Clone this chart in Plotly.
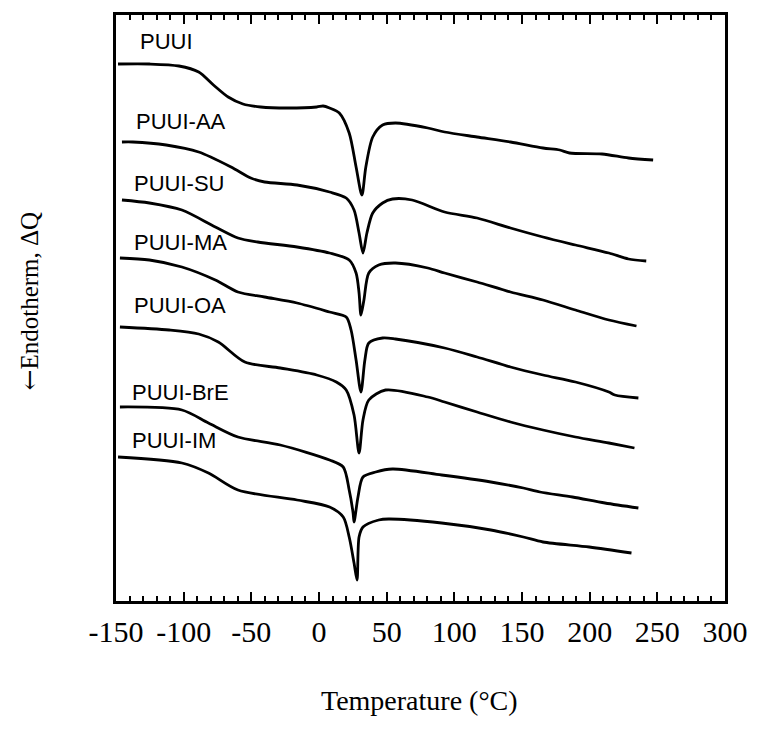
import plotly.graph_objects as go

# Temperature (°C) and heat-flow signal (arbitrary units)
names = ["PUUI", "PUUI-AA", "PUUI-SU", "PUUI-MA", "PUUI-OA", "PUUI-BrE", "PUUI-IM"]

t_puui = [-148.5, -125.3, -103.5, -88.9, -78.0, -67.1, -56.2, -43.1, -23.5, -1.7, 3.0, 7.8, 15.0, 22.3, 27.4, 31.7,
          34.6, 39.7, 47.0, 56.5, 80.4, 92.8, 116.8, 141.5, 165.5, 177.9, 185.1, 209.1, 228.7, 246.9]
q_puui = [537, 537, 535, 529, 516, 504, 497, 494, 493, 494, 495, 493, 488, 468, 434, 406,
          434, 464, 476, 478, 473, 469, 464, 459, 453, 451, 448, 447, 443, 441]

t_aa = [-145.6, -137.6, -112.9, -88.9, -65.0, -50.4, -40.2, -16.2, 7.8, 20.1, 25.9, 29.6, 32.5, 35.4, 39.7, 47.0,
        54.3, 68.8, 92.8, 116.8, 141.5, 165.5, 189.5, 214.2, 228.7, 241.8]
q_aa = [459, 459, 456, 449, 434, 423, 419, 416, 409, 403, 391, 368, 348, 368, 388, 398,
        402, 401, 389, 383, 373, 364, 356, 348, 342, 340]

t_su = [-145.6, -125.3, -101.3, -76.6, -59.9, -45.3, -16.2, 7.8, 22.3, 27.4, 29.6, 31.0, 33.2, 36.8, 44.1, 56.5,
        80.4, 92.8, 116.8, 141.5, 165.5, 189.5, 214.2, 234.6]
q_su = [401, 398, 391, 374, 363, 359, 354, 348, 341, 328, 308, 286, 301, 328, 336, 338,
        333, 328, 319, 309, 301, 291, 281, 275]

t_ma = [-147.1, -125.3, -101.3, -76.6, -59.9, -40.2, -16.2, 7.8, 20.1, 23.7, 27.4, 31.0, 33.9, 36.8, 47.0, 56.5,
        92.8, 116.8, 141.5, 165.5, 189.5, 214.2, 218.6, 236.0]
q_ma = [343, 341, 334, 321, 309, 304, 298, 289, 284, 271, 241, 209, 241, 258, 263, 262,
        253, 244, 234, 226, 219, 209, 206, 203]

t_oa = [-147.1, -110.7, -88.9, -74.4, -54.8, -28.6, -1.7, 12.8, 20.1, 25.9, 29.6, 32.5, 36.8, 49.2, 80.4, 92.8,
        116.8, 141.5, 165.5, 189.5, 214.2, 233.1]
q_oa = [274, 271, 267, 259, 239, 233, 226, 219, 211, 186, 148, 181, 201, 211, 204, 199,
        189, 179, 171, 164, 158, 153]

t_bre = [-147.1, -101.3, -81.7, -59.9, -28.6, 7.8, 17.9, 22.3, 25.2, 25.9, 28.8, 32.5, 41.9, 54.3, 90.6, 127.0,
         151.0, 163.3, 187.3, 211.3, 236.0]
q_bre = [194, 191, 178, 164, 156, 141, 134, 111, 88, 79, 104, 124, 129, 132, 126, 119,
         113, 109, 104, 98, 93]

t_im = [-148.5, -101.3, -81.7, -59.9, -16.2, 7.8, 17.9, 22.3, 25.9, 28.1, 29.6, 32.5, 44.1, 51.4, 90.6, 127.0,
        151.0, 165.5, 199.7, 230.9]
q_im = [144, 138, 128, 111, 101, 94, 84, 64, 38, 21, 64, 74, 81, 82, 78, 71,
        64, 59, 54, 48]

temps = [t_puui, t_aa, t_su, t_ma, t_oa, t_bre, t_im]
signals = [q_puui, q_aa, q_su, q_ma, q_oa, q_bre, q_im]

x_ticks = [-150, -100, -50, 0, 50, 100, 150, 200, 250, 300]
x_tick_text = ["-150", "-100", "-50", "0", "50", "100", "150", "200", "250", "300"]

# label anchor positions (temperature, signal)
label_x = [-134, -137, -138, -138, -138, -140, -140]
label_y = [560, 480, 418, 359, 296, 209, 161]

fig = go.Figure()
for t, q in zip(temps, signals):
    fig.add_trace(go.Scatter(x=t, y=q, mode="lines",
                             line=dict(color="black", width=2.8, shape="spline", smoothing=0.8),
                             showlegend=False, hoverinfo="skip"))

for name, lx, ly in zip(names, label_x, label_y):
    fig.add_annotation(x=lx, y=ly, text=name, showarrow=False, xanchor="left", yanchor="middle",
                       font=dict(family="Liberation Sans, Arial", size=22, color="black"))

fig.add_annotation(xref="paper", yref="paper", x=-0.142, y=0.512,
                   text="<span style='font-family:DejaVu Serif'>←</span>Endotherm, ΔQ",
                   textangle=-90, showarrow=False, xanchor="center", yanchor="middle",
                   font=dict(family="Liberation Serif, Times New Roman", size=25, color="black"))
fig.add_annotation(xref="paper", yref="paper", x=0.498, y=-0.17, text="Temperature (°C)",
                   showarrow=False, xanchor="center", yanchor="middle",
                   font=dict(family="Liberation Serif, Times New Roman", size=28, color="black"))

fig.update_layout(
    width=760, height=733,
    margin=dict(l=116, r=25, t=15, b=132),
    paper_bgcolor="white", plot_bgcolor="white",
    xaxis=dict(range=[-150, 300], tickmode="array", tickvals=x_ticks, ticktext=x_tick_text,
               ticks="inside", ticklen=9, tickwidth=2, tickcolor="black",
               minor=dict(dtick=10, ticks="inside", ticklen=5, tickwidth=1.8, tickcolor="black"),
               showline=True, linecolor="black", linewidth=2.5, mirror="allticks",
               showgrid=False, zeroline=False, ticklabelstandoff=2,
               tickfont=dict(family="Liberation Serif, Times New Roman", size=30, color="black")),
    yaxis=dict(range=[0, 586], showline=True, linecolor="black", linewidth=2.5, mirror=True,
               showticklabels=False, ticks="", showgrid=False, zeroline=False),
)

fig.write_html("out.html")
